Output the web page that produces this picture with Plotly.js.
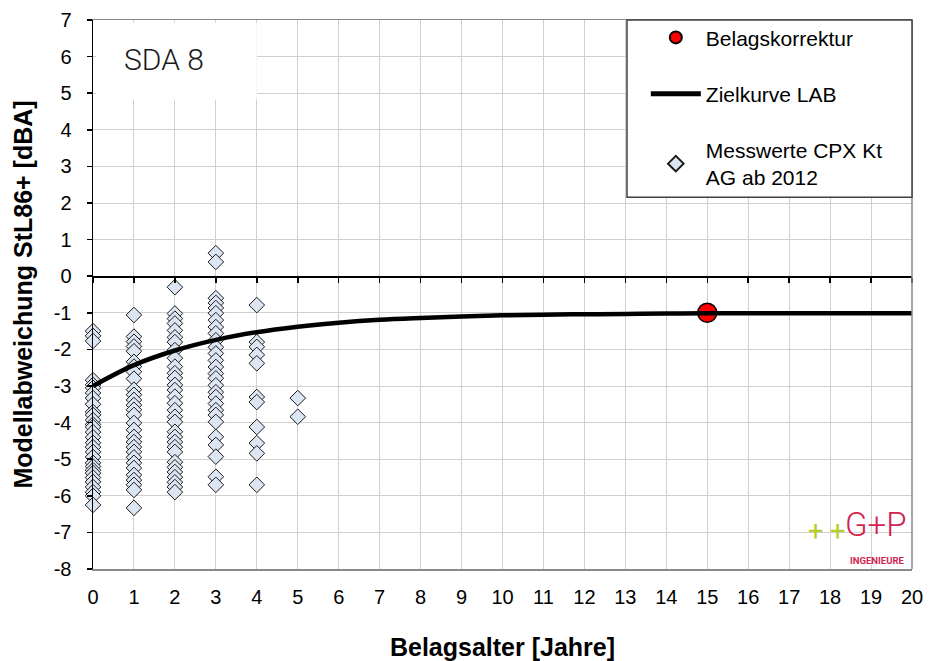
<!DOCTYPE html>
<html>
<head>
<meta charset="utf-8">
<script src="https://cdn.plot.ly/plotly-3.0.1.min.js"></script>
<style>
  html, body { margin: 0; padding: 0; background: #ffffff; }
  #chart { width: 929px; height: 661px; }
</style>
</head>
<body>
<div id="chart"></div>
<script>
// Measured CPX deviations per pavement age (years), Kanton AG from 2012
const meas0 = [-1.50, -1.63, -1.77, -2.84, -2.97, -3.05, -3.19, -3.33, -3.50, -3.71, -3.79, -3.93,
               -4.05, -4.12, -4.26, -4.40, -4.55, -4.67, -4.80, -4.94, -5.10, -5.20, -5.30, -5.38,
               -5.50, -5.62, -5.76, -5.90, -6.00, -6.25];
const meas1 = [-1.06, -1.65, -1.79, -1.92, -2.05, -2.34, -2.47, -2.61, -2.80, -3.10, -3.24, -3.38,
               -3.52, -3.65, -3.79, -4.01, -4.20, -4.39, -4.53, -4.67, -4.80, -4.95, -5.10, -5.24,
               -5.43, -5.57, -5.70, -5.84, -6.33];
const meas2 = [-0.30, -1.02, -1.16, -1.29, -1.48, -1.67, -1.80, -2.02, -2.24, -2.47, -2.65, -2.78,
               -2.97, -3.11, -3.29, -3.47, -3.66, -3.84, -3.98, -4.25, -4.39, -4.53, -4.67, -4.80,
               -5.08, -5.22, -5.35, -5.49, -5.63, -5.76, -5.90];
const meas3 = [0.63, 0.39, -0.60, -0.73, -0.87, -1.01, -1.20, -1.39, -1.56, -1.75, -1.94, -2.11,
               -2.30, -2.48, -2.66, -2.79, -2.98, -3.17, -3.30, -3.48, -3.66, -3.79, -3.98, -4.39,
               -4.61, -4.93, -5.48, -5.70];
const meas4 = [-0.79, -1.80, -1.93, -2.15, -2.38, -3.30, -3.44, -4.12, -4.56, -4.84, -5.70];
const meas5 = [-3.33, -3.84];
const measGroups = [meas0, meas1, meas2, meas3, meas4, meas5];

// Target curve LAB
const curveAge = [0, 1, 2, 3, 4, 5, 6, 7, 8, 9, 10, 11, 12, 13, 14, 15, 16, 17, 18, 19, 20];
const curveDev = [-3.00, -2.43, -2.03, -1.74, -1.53, -1.38, -1.27, -1.19, -1.14, -1.10, -1.07,
                  -1.05, -1.04, -1.03, -1.02, -1.01, -1.01, -1.01, -1.01, -1.01, -1.01];

// Pavement correction point
const corrAge = [15];
const corrDev = [-1.0];

// Axis ticks
const xTickVals = [0, 1, 2, 3, 4, 5, 6, 7, 8, 9, 10, 11, 12, 13, 14, 15, 16, 17, 18, 19, 20];
const xTickText = ['0', '1', '2', '3', '4', '5', '6', '7', '8', '9', '10', '11', '12', '13', '14',
                   '15', '16', '17', '18', '19', '20'];
const yTickVals = [-8, -7, -6, -5, -4, -3, -2, -1, 0, 1, 2, 3, 4, 5, 6, 7];
const yTickText = ['-8', '-7', '-6', '-5', '-4', '-3', '-2', '-1', '0', '1', '2', '3', '4', '5', '6', '7'];
const xRange = [0, 20];
const yRange = [-8, 7];

const measX = [];
const measY = [];
measGroups.forEach((vals, age) => {
  vals.forEach(v => { measX.push(age); measY.push(v); });
});

const FONT = 'Arial, "Liberation Sans", sans-serif';

const traces = [
  {
    type: 'scatter', mode: 'markers', name: 'Messwerte CPX Kt<br>AG ab 2012',
    x: measX, y: measY, legendgroup: 'c', legendrank: 3,
    marker: { symbol: 'diamond', size: 12, color: '#dce6f2', line: { color: '#1a1a1a', width: 1 } },
    cliponaxis: false
  },
  {
    type: 'scatter', mode: 'lines', name: 'Zielkurve LAB',
    x: curveAge, y: curveDev, xaxis: 'x2', legendgroup: 'b', legendrank: 2,
    line: { color: '#000000', width: 4.5, shape: 'spline', smoothing: 1 }
  },
  {
    type: 'scatter', mode: 'markers', name: 'Belagskorrektur',
    x: corrAge, y: corrDev, legendgroup: 'a', legendrank: 1,
    marker: { symbol: 'circle', size: 19, color: '#ff0000', line: { color: '#000000', width: 1.5 } }
  }
];

// fraction of the plot height where y = 0 lies
const zeroPos = (0 - yRange[0]) / (yRange[1] - yRange[0]);

const layout = {
  width: 929, height: 661,
  margin: { l: 93, r: 17, t: 20, b: 92 },
  paper_bgcolor: '#ffffff', plot_bgcolor: '#ffffff',
  font: { family: FONT, size: 20, color: '#000000' },
  showlegend: true,
  legend: {
    x: 0.675, xanchor: 'left', y: 1.005, yanchor: 'top',
    bgcolor: 'rgba(0,0,0,0)', borderwidth: 0,
    font: { family: FONT, size: 21, color: '#000000' },
    traceorder: 'grouped', tracegroupgap: 26, itemwidth: 50, itemsizing: 'constant'
  },
  xaxis: {
    range: xRange, tickvals: xTickVals, ticktext: xTickText,
    showgrid: true, gridcolor: '#d0d0d0', gridwidth: 1,
    showline: true, linecolor: '#8a8a8a', linewidth: 1.5, mirror: true,
    ticks: '', zeroline: false, ticklabelstandoff: 9,
    tickfont: { family: FONT, size: 20, color: '#000000' },
    title: { text: '<b>Belagsalter [Jahre]</b>', font: { family: FONT, size: 25, color: '#000000' }, standoff: 32 }
  },
  xaxis2: {
    range: xRange, tickvals: xTickVals, overlaying: 'x', anchor: 'free', position: zeroPos,
    side: 'bottom', showgrid: false, zeroline: false, showticklabels: false,
    showline: true, linecolor: '#000000', linewidth: 1.5,
    ticks: 'outside', ticklen: 5, tickcolor: '#000000', tickwidth: 1.5
  },
  yaxis: {
    range: yRange, tickvals: yTickVals, ticktext: yTickText,
    showgrid: true, gridcolor: '#d0d0d0', gridwidth: 1,
    showline: true, linecolor: '#000000', linewidth: 1.5,
    ticks: 'outside', ticklen: 5, tickcolor: '#000000', tickwidth: 1.5,
    zeroline: false, ticklabelstandoff: 11,
    tickfont: { family: FONT, size: 20, color: '#000000' },
    title: { text: '<b>Modellabweichung StL86+ [dBA]</b>', font: { family: FONT, size: 25, color: '#000000' }, standoff: 14 }
  },
  shapes: [
    // right border of the plot area
    { type: 'line', xref: 'paper', yref: 'paper', x0: 1, x1: 1, y0: 0, y1: 1,
      line: { color: '#8a8a8a', width: 1.5 }, layer: 'above' },
    // white panel behind the route label
    { type: 'rect', xref: 'paper', yref: 'paper', x0: 0.004, x1: 0.2, y0: 0.855, y1: 0.995,
      fillcolor: '#ffffff', line: { width: 0 }, layer: 'above' },
    // legend frame
    { type: 'rect', xref: 'paper', yref: 'paper', x0: 0.652, x1: 1.0, y0: 0.677, y1: 1.0,
      fillcolor: '#ffffff', line: { color: '#404040', width: 1.5 }, layer: 'above' }
  ],
  annotations: [
    { text: 'SDA 8', xref: 'paper', yref: 'paper', x: 0.087, y: 0.928, xanchor: 'center', yanchor: 'middle',
      showarrow: false, font: { family: 'Roboto, "DejaVu Sans", sans-serif', size: 30, weight: 300, color: '#1a1a1a' } },
    { text: '+ +', xref: 'paper', yref: 'paper', x: 0.896, y: 0.069, xanchor: 'center', yanchor: 'middle',
      showarrow: false, font: { family: 'Roboto, sans-serif', size: 27, weight: 400, color: '#b5d02c' } },
    { text: 'G+P', xref: 'paper', yref: 'paper', x: 0.956, y: 0.081, xanchor: 'center', yanchor: 'middle',
      showarrow: false, font: { family: 'Roboto, sans-serif', size: 33, weight: 300, color: '#d41f4f' } },
    { text: '<b>INGENIEURE</b>', xref: 'paper', yref: 'paper', x: 0.957, y: 0.0146, xanchor: 'center', yanchor: 'middle',
      showarrow: false, font: { family: 'Roboto, sans-serif', size: 9.5, color: '#d41f4f' } }
  ]
};

Plotly.newPlot('chart', traces, layout, { staticPlot: true, displayModeBar: false });
</script>
</body>
</html>
